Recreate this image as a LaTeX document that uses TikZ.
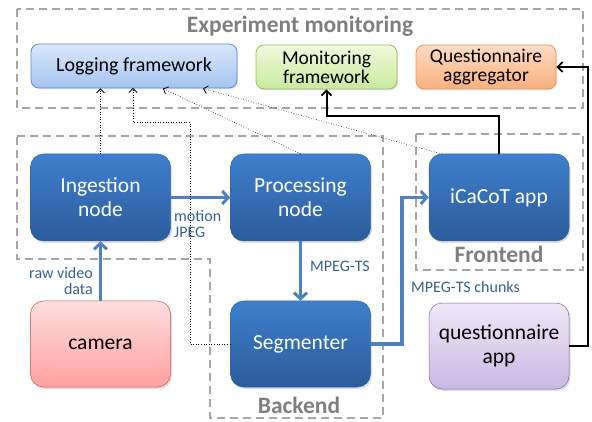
\documentclass[tikz,border=0pt]{standalone}
\usepackage{fontspec}
\setmainfont{Carlito}
\usetikzlibrary{arrows.meta,calc,shadows}
\definecolor{dashgray}{HTML}{A6A6A6}
\definecolor{titlegray}{HTML}{7F7F7F}
\definecolor{flowblue}{HTML}{4F81BD}
\definecolor{labelblue}{HTML}{376092}
\begin{document}
\begin{tikzpicture}[x=1pt,y=-1pt,
  grp/.style={draw=dashgray,line width=2.2pt,dash pattern=on 8pt off 5pt},
  grptitle/.style={font=\bfseries\fontsize{23.5}{24}\selectfont,text=titlegray,inner sep=0pt},
  bluebox/.style={rounded corners=13pt,
     minimum width=140pt,minimum height=87pt,align=center,
     top color={rgb,255:red,62;green,127;blue,204},bottom color={rgb,255:red,44;green,92;blue,155},
     draw={rgb,255:red,50;green,100;blue,170},line width=0.5pt,text=white,
     font=\fontsize{21.5}{24}\selectfont,
     drop shadow={shadow xshift=1.5pt,shadow yshift=-2pt,opacity=0.25}},
  topbox/.style={rounded corners=8pt,minimum height=44pt,align=center,line width=0.8pt,
     font=\fontsize{19.5}{19}\selectfont,inner sep=1pt,
     drop shadow={shadow xshift=1pt,shadow yshift=-1.5pt,opacity=0.2}},
  flow/.style={draw=flowblue,line width=3.5pt,-{Straight Barb[length=6pt,width=13pt,line width=3pt]}},
  blk/.style={draw=black,line width=2pt,-{Straight Barb[length=5pt,width=10pt,line width=1.8pt]}},
  dot/.style={draw=black,line width=0.6pt,dotted,-{Straight Barb[length=4pt,width=8pt,line width=0.8pt]}},
  lbl/.style={text=labelblue,font=\fontsize{16}{16}\selectfont,inner sep=0pt}]
\useasboundingbox (0,0) rectangle (592,422);
% group boxes
\draw[grp] (17,9) rectangle (583,108);
\node[grptitle,anchor=base] (tEM) at (300,33) {Experiment monitoring};
\draw[grp] (17,136) -- (383,136) -- (383,418) -- (210,418) -- (210,259) -- (17,259) -- cycle;
\node[grptitle,anchor=base] (tBE) at (299,413) {Backend};
\draw[grp] (416,134) rectangle (583,270);
\node[grptitle,anchor=base] (tFE) at (499,263) {Frontend};
% top nodes
\node[topbox,font=\fontsize{20}{20}\selectfont,minimum width=206pt,top color={rgb,255:red,218;green,232;blue,252},bottom color={rgb,255:red,165;green,196;blue,240},draw={rgb,255:red,95;green,140;blue,208}] (log) at (134,66) {Logging framework};
\node[topbox,minimum width=141pt,top color={rgb,255:red,240;green,250;blue,222},bottom color={rgb,255:red,200;green,234;blue,155},draw={rgb,255:red,155;green,190;blue,90}] (mon) at (326.5,67) {Monitoring\\framework};
\node[topbox,minimum width=140pt,top color={rgb,255:red,253;green,220;blue,196},bottom color={rgb,255:red,249;green,176;blue,124},draw={rgb,255:red,240;green,150;blue,80}] (qagg) at (486,67) {Questionnaire\\aggregator};
% main nodes
\node[bluebox] (ing) at (100.5,197.5) {Ingestion\\node};
\node[bluebox] (proc) at (300.5,197.5) {Processing\\node};
\node[bluebox] (ica) at (499,197.5) {iCaCoT app};
\node[bluebox,minimum height=86pt,top color={rgb,255:red,255;green,222;blue,222},bottom color={rgb,255:red,255;green,160;blue,160},draw={rgb,255:red,192;green,90;blue,88},text=black] (cam) at (100.5,344) {camera};
\node[bluebox,minimum height=86pt] (seg) at (300.5,344) {Segmenter};
\node[bluebox,minimum height=86pt,top color={rgb,255:red,240;green,233;blue,248},bottom color={rgb,255:red,202;green,184;blue,226},draw={rgb,255:red,128;green,100;blue,162},text=black] (qapp) at (499,346) {questionnaire\\app};
% blue flows
\draw[flow] (cam.north) -- (ing.south);
\node[lbl,anchor=north east,align=right] (l1) at (93,267) {raw video\\data};
\draw[flow] (ing.east) -- (proc.west);
\node[lbl,anchor=north west,align=left] (l2) at (174,210) {motion\\JPEG};
\draw[flow] (proc.south) -- (seg.north);
\node[lbl,anchor=base west] (l3) at (310,272) {MPEG-TS};
\coordinate (c1) at (402,344);
\draw[flow] (seg.east) -- (c1) |- (ica.west);
\node[lbl,anchor=base west] (l4) at (411,292) {MPEG-TS chunks};
% black arrows
\coordinate (m1) at (326.5,116);
\draw[blk] (ica.north) |- (m1) -- (mon.south);
\coordinate (q1) at (588,346);
\draw[blk] (qapp.east) -- (q1) |- (qagg.east);
% dotted arrows to logging
\draw[dot] (ing.north) -- (ing.north |- log.south);
\coordinate (s1) at (190,122);
\coordinate (s2) at (133,88);
\draw[dot] (seg.west) -| (s1) -| (s2);
\coordinate (p2) at (163,88.5);
\draw[dot] (proc.north) -- (p2);
\coordinate (i1) at (442,154);
\coordinate (i2) at (203,88.5);
\draw[dot] (i1) -- (i2);
\end{tikzpicture}
\end{document}
